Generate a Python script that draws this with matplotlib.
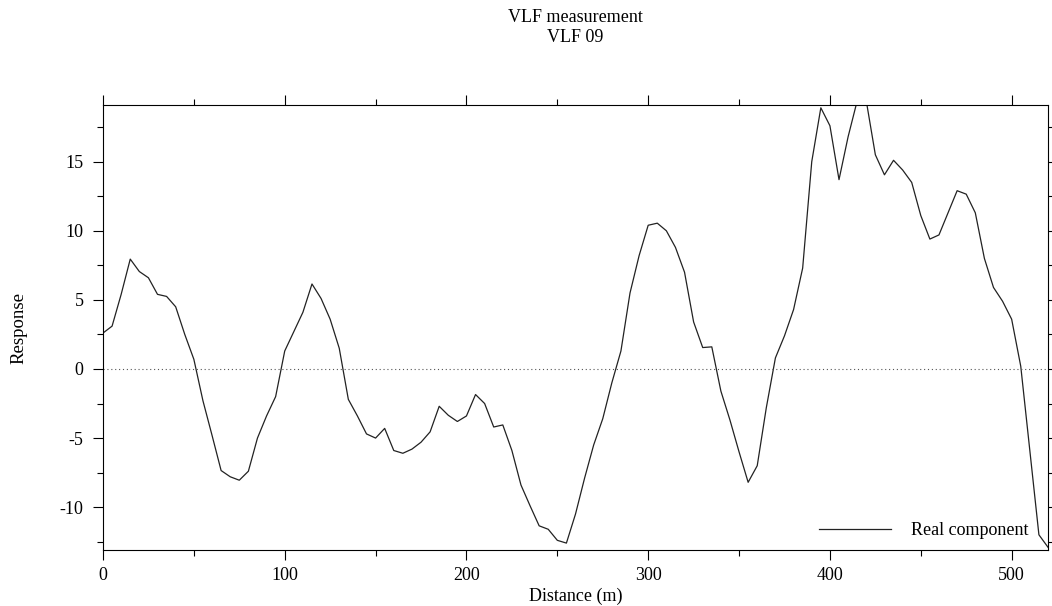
import matplotlib
matplotlib.use("Agg")
import matplotlib.pyplot as plt
from matplotlib.ticker import MultipleLocator

# ── Data ──────────────────────────────────────────────
distance = [0, 5, 10, 15, 20, 25, 30, 35, 40, 45, 50, 55, 60, 65, 70, 75, 80,
            85, 90, 95, 100, 105, 110, 115, 120, 125, 130, 135, 140, 145, 150,
            155, 160, 165, 170, 175, 180, 185, 190, 195, 200, 205, 210, 215,
            220, 225, 230, 235, 240, 245, 250, 255, 260, 265, 270, 275, 280,
            285, 290, 295, 300, 305, 310, 315, 320, 325, 330, 335, 340, 345,
            350, 355, 360, 365, 370, 375, 380, 385, 390, 395, 400, 405, 410,
            415, 420, 425, 430, 435, 440, 445, 450, 455, 460, 465, 470, 475,
            480, 485, 490, 495, 500, 505, 510, 515, 520]
real_component = [2.6, 3.1, 5.4, 7.95, 7.05, 6.6, 5.4, 5.25, 4.5, 2.5, 0.7,
                  -2.3, -4.8, -7.35, -7.8, -8.05, -7.4, -5.0, -3.4, -2.0, 1.3,
                  2.7, 4.1, 6.15, 5.1, 3.6, 1.5, -2.2, -3.4, -4.7, -5.0, -4.3,
                  -5.9, -6.1, -5.8, -5.3, -4.55, -2.7, -3.35, -3.8, -3.4,
                  -1.85, -2.5, -4.2, -4.05, -5.9, -8.4, -9.9, -11.35, -11.6,
                  -12.4, -12.6, -10.5, -7.9, -5.5, -3.6, -1.0, 1.3, 5.5, 8.2,
                  10.4, 10.55, 10.0, 8.8, 7.0, 3.4, 1.55, 1.6, -1.6, -3.7,
                  -6.0, -8.2, -7.0, -2.8, 0.8, 2.4, 4.3, 7.3, 15.0, 18.9, 17.6,
                  13.7, 16.8, 19.4, 19.4, 15.5, 14.05, 15.1, 14.4, 13.5, 11.1,
                  9.4, 9.7, 11.3, 12.9, 12.65, 11.3, 8.0, 5.9, 4.9, 3.6, 0.2,
                  -5.9, -12.0, -12.9]

plt.rcParams["font.family"] = ["Liberation Serif", "DejaVu Serif"]
plt.rcParams["axes.unicode_minus"] = False

fig = plt.figure(figsize=(10.52, 6.06), dpi=100)
ax = fig.add_axes([0.0979, 0.0924, 0.8983, 0.7343])

ax.plot(distance, real_component, color="#222222", linewidth=0.9,
        label="Real component")
ax.axhline(0, color="#555555", linestyle=(0, (1, 2.5)), linewidth=0.8)

ax.set_xlim(0, 520)
ax.set_ylim(-13.1, 19.1)
ax.xaxis.set_major_locator(MultipleLocator(100))
ax.xaxis.set_minor_locator(MultipleLocator(50))
ax.yaxis.set_major_locator(MultipleLocator(5))
ax.yaxis.set_minor_locator(MultipleLocator(2.5))

ax.tick_params(which="both", direction="out", top=True, right=True,
               labeltop=False, labelright=False, labelsize=13, width=0.8)
ax.tick_params(which="major", length=7)
ax.tick_params(which="minor", length=4)
ax.tick_params(axis="y", which="major", pad=7)
ax.tick_params(axis="x", which="major", pad=5)
for s in ax.spines.values():
    s.set_linewidth(0.8)

ax.set_xlabel("Distance (m)", fontsize=13, va="bottom")
ax.xaxis.set_label_coords(0.5, -0.1225)
ax.set_ylabel("Response", fontsize=13.5)
ax.yaxis.set_label_coords(-0.080, 0.5)

fig.text(0.547, 0.985, "VLF measurement\nVLF 09", ha="center", va="top",
         fontsize=13, linespacing=1.2)

ax.legend(loc="lower right", bbox_to_anchor=(0.979, 0.025), frameon=False,
          fontsize=13, handlelength=4.0, handletextpad=1.1, borderpad=0,
          borderaxespad=0)

fig.savefig("out.png", dpi=100)
